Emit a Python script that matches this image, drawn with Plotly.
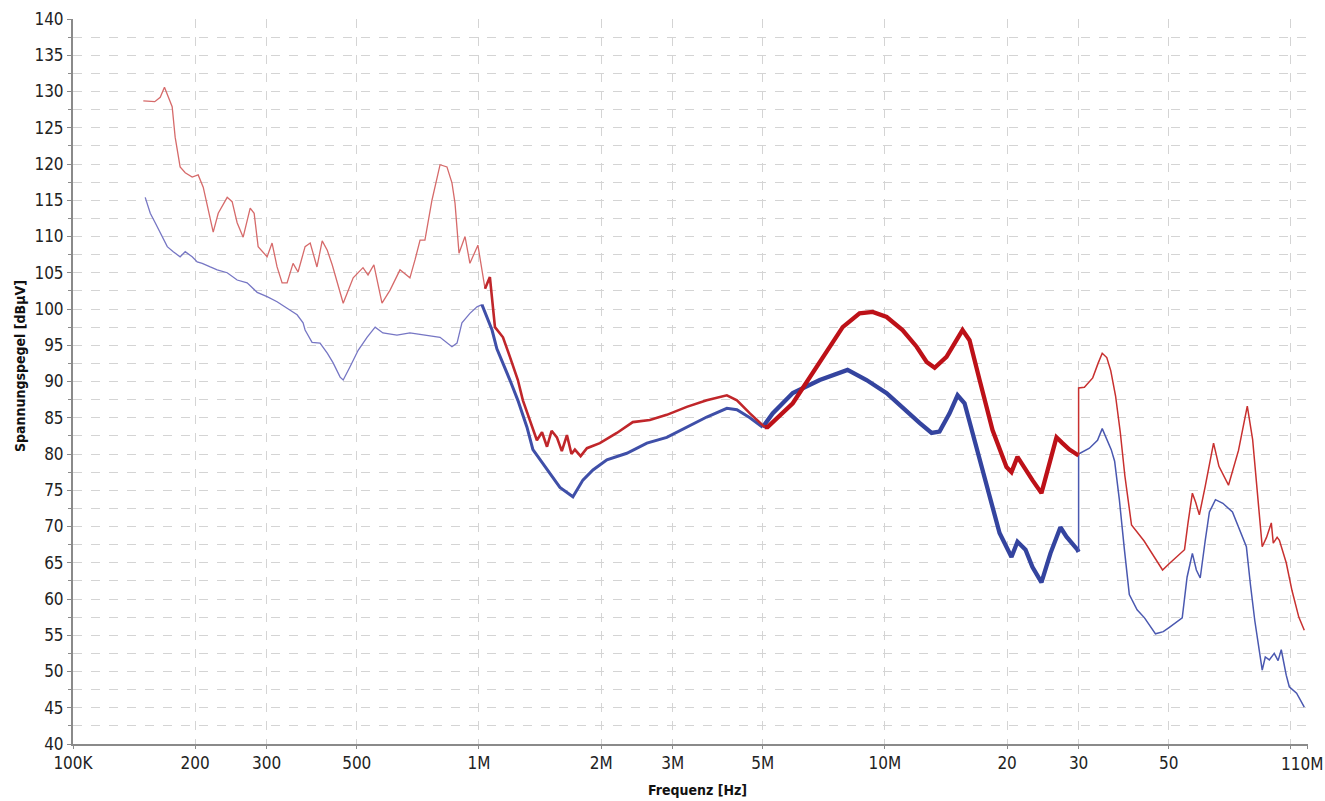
import math
import plotly.graph_objects as go

# ---------------- data (frequency in MHz, level in dBµV) ----------------
red_mhz = [
    0.149, 0.159, 0.164, 0.168, 0.1755, 0.1785, 0.1836, 0.189, 0.1966, 0.2034,
    0.2093, 0.2178, 0.2215, 0.2279, 0.2398, 0.2466, 0.2537, 0.2625, 0.2732, 0.2794,
    0.2858, 0.3007, 0.3093, 0.3182, 0.3274, 0.3368, 0.3484, 0.3584, 0.373, 0.384,
    0.399, 0.411, 0.423, 0.435, 0.447, 0.463, 0.490, 0.518, 0.533, 0.551,
    0.577, 0.604, 0.639, 0.676, 0.696, 0.716, 0.736, 0.766, 0.802, 0.834,
    0.858, 0.873, 0.893, 0.924, 0.950, 0.994, 1.035, 1.064, 1.095, 1.146,
    1.192, 1.247, 1.283, 1.335, 1.389, 1.43, 1.471, 1.51, 1.556, 1.60,
    1.647, 1.69, 1.723, 1.78, 1.845,
    1.985, 2.186, 2.393, 2.636, 2.902, 3.25, 3.64, 4.08, 4.32, 4.65,
    5.06, 5.14, 5.93, 6.91, 7.87, 8.66, 9.33, 10.1, 11.05, 11.97,
    12.67, 13.26, 14.18, 15.53, 16.16, 17.11, 18.41, 19.93, 20.5, 21.21,
    21.82, 23.09, 24.3, 25.43, 26.46, 27.37, 28.48, 29.8, 30.0, 30.0,
    31.0, 32.5, 33.5, 34.3, 35.2, 36.0, 37.0, 38.0, 39.0, 40.5,
    43.5, 46.1, 48.3, 50.2, 53.1, 54.7, 55.8, 57.2, 58.3, 59.5,
    61.5, 64.5, 66.5, 70.2, 74.3, 78.1, 80.5, 83.0, 85.0, 87.1,
    89.5, 90.5, 92.5, 93.7, 97.4, 100.6, 104.6, 107.9,
]
red_dbuv = [
    128.7, 128.6, 129.2, 130.6, 127.9, 123.7, 119.6, 118.8, 118.2, 118.5,
    116.8, 112.3, 110.6, 113.2, 115.4, 114.8, 111.9, 109.9, 113.9, 113.2,
    108.6, 107.2, 109.1, 105.8, 103.6, 103.6, 106.3, 105.1, 108.6, 109.1,
    105.8, 109.4, 108.1, 106.1, 103.7, 100.8, 104.3, 105.7, 104.7, 106.1,
    100.8, 102.6, 105.4, 104.3, 106.8, 109.5, 109.5, 115.0, 119.9, 119.6,
    117.4, 114.6, 107.7, 110.0, 106.3, 108.8, 102.8, 104.4, 97.5, 96.1,
    93.4, 90.2, 87.4, 84.7, 81.9, 83.0, 81.0, 83.2, 82.3, 80.4,
    82.6, 80.0, 80.6, 79.7, 80.8,
    81.5, 82.9, 84.4, 84.7, 85.4, 86.5, 87.4, 88.1, 87.4, 85.6,
    83.7, 83.7, 87.0, 92.6, 97.5, 99.4, 99.6, 98.9, 97.1, 94.8,
    92.7, 91.9, 93.4, 97.1, 95.7, 90.2, 83.3, 78.2, 77.5, 79.6,
    78.5, 76.4, 74.6, 78.9, 82.3, 81.5, 80.6, 79.9, 79.8, 89.1,
    89.2, 90.5, 92.5, 93.9, 93.3, 91.5, 88.0, 83.0, 77.0, 70.2,
    68.0, 65.8, 64.0, 64.9, 66.1, 66.8, 70.5, 74.6, 73.3, 71.6,
    75.5, 81.5, 78.3, 75.7, 80.5, 86.6, 82.0, 74.0, 67.2, 68.5,
    70.5, 67.7, 68.5, 68.1, 65.0, 61.2, 57.5, 55.7,
]

blue_mhz = [
    0.1506, 0.155, 0.1594, 0.1659, 0.1707, 0.1766, 0.1836, 0.189, 0.1966, 0.2023,
    0.2081, 0.2178, 0.2266, 0.2398, 0.2537, 0.2685, 0.2842, 0.3007, 0.3182, 0.3368,
    0.3565, 0.3688, 0.373, 0.388, 0.406, 0.423, 0.437, 0.455, 0.463, 0.481,
    0.504, 0.530, 0.555, 0.580, 0.628, 0.676, 0.745, 0.802, 0.858, 0.883,
    0.908, 0.950, 0.989, 1.017, 1.046, 1.077, 1.107, 1.146, 1.192, 1.247,
    1.313, 1.358, 1.471, 1.583, 1.704, 1.803, 1.909, 2.066, 2.313, 2.592,
    2.902, 3.25, 3.64, 4.08, 4.32, 4.65, 5.0, 5.29, 5.93, 6.91,
    8.09, 9.01, 10.1, 11.31, 12.17, 13.03, 13.63, 14.43, 15.1, 15.71,
    16.44, 17.8, 19.16, 20.5, 21.21, 22.2, 23.09, 24.3, 25.57, 27.06,
    28.0, 29.8, 30.0, 30.0, 31.9, 33.4, 34.3, 35.0, 36.1, 36.8,
    37.8, 38.9, 40.0, 41.8, 43.6, 46.4, 48.5, 50.2, 53.1, 54.0,
    55.5, 57.2, 58.5, 59.8, 61.5, 63.0, 65.2, 68.0, 71.8, 74.3,
    77.7, 79.5, 81.5, 85.0, 86.5, 88.5, 91.0, 93.0, 94.7, 97.4,
    99.1, 103.3, 107.9,
]
blue_dbuv = [
    115.4, 113.2, 111.9, 109.9, 108.6, 107.9, 107.2, 107.9, 107.2, 106.5,
    106.3, 105.8, 105.4, 105.0, 104.0, 103.6, 102.3, 101.7, 101.0, 100.1,
    99.2, 98.1, 97.1, 95.4, 95.3, 93.9, 92.6, 90.6, 90.2, 92.0,
    94.3, 96.1, 97.5, 96.7, 96.4, 96.7, 96.4, 96.1, 94.8, 95.3,
    98.1, 99.4, 100.3, 100.6, 98.9, 97.1, 94.5, 92.6, 90.2, 87.4,
    83.7, 80.6, 77.8, 75.4, 74.1, 76.4, 77.8, 79.2, 80.1, 81.5,
    82.3, 83.7, 85.1, 86.3, 86.1, 85.0, 83.7, 85.6, 88.4, 90.2,
    91.6, 90.2, 88.4, 85.8, 84.3, 82.9, 83.1, 85.6, 88.1, 87.0,
    82.9, 75.4, 69.1, 65.8, 67.9, 66.8, 64.4, 62.3, 66.3, 69.9,
    68.6, 66.8, 66.5, 80.0, 80.8, 81.9, 83.5, 82.3, 80.6, 79.0,
    73.7, 66.8, 60.6, 58.5, 57.4, 55.2, 55.5, 56.1, 57.1, 57.4,
    63.0, 66.3, 64.0, 62.9, 68.0, 72.0, 73.7, 73.2, 72.0, 70.0,
    67.2, 62.0, 57.0, 50.2, 52.0, 51.6, 52.5, 51.5, 53.0, 49.5,
    47.9, 47.0, 45.1,
]

x_tick_hz = [1e5, 2e5, 3e5, 5e5, 1e6, 2e6, 3e6, 5e6, 1e7, 2e7, 3e7, 5e7, 1e8, 1.1e8]
x_tick_text = ["100K", "200", "300", "500", "1M", "2M", "3M", "5M", "10M",
               "20", "30", "50", "", "110M"]
y_min, y_max = 40, 140
x_title = "Frequenz [Hz]"
y_title = "Spannungspegel [dBµV]"

FONT = "DejaVu Sans Condensed, Liberation Sans Narrow, Arial Narrow, sans-serif"

W, H = 1325, 801
ML, MR, MT, MB = 73, 17, 19, 57


def first_index(f, limit):
    for i, v in enumerate(f):
        if v >= limit:
            return i
    return len(f) - 1


def segments(f):
    i1 = first_index(f, 1.0)
    i5 = first_index(f, 5.0)
    j30 = first_index(f, 30.0)
    return [(0, i1 + 1), (i1, i5 + 1), (i5, j30 + 1), (j30, len(f))]


fig = go.Figure()

styles = {
    "blue": (blue_mhz, blue_dbuv,
             [("#7676c4", 1.3), ("#3f4fa8", 3.0), ("#34449f", 4.3), ("#4a58b0", 1.5)]),
    "red": (red_mhz, red_dbuv,
            [("#d66a6a", 1.3), ("#c0262a", 2.6), ("#bd1118", 4.3), ("#c8302f", 1.5)]),
}

for name in ["blue", "red"]:
    f, v, st = styles[name]
    for (a, b), (col, w) in zip(segments(f), st):
        fig.add_trace(go.Scatter(
            x=[x * 1e6 for x in f[a:b]], y=v[a:b], mode="lines",
            line=dict(color=col, width=w), showlegend=False, hoverinfo="skip",
        ))

grid_col = "#d4d4d4"
axis_col = "#8a8a8a"
pw = W - ML - MR
ph = H - MT - MB
tick_font = dict(family=FONT, size=17, color="#222222")

# last tick label (at the right edge) placed as an annotation so it is not hidden
axis_tick_text = x_tick_text[:-1] + [""]

fig.update_layout(
    width=W, height=H,
    margin=dict(l=ML, r=MR, t=MT, b=MB),
    paper_bgcolor="white", plot_bgcolor="white",
    font=dict(family=FONT, color="#222222", size=17),
    showlegend=False,
    annotations=[
        dict(text="<b>%s</b>" % x_title, xref="paper", yref="paper",
             x=(697 - ML) / pw, y=-(790 - (H - MB)) / ph, showarrow=False,
             xanchor="center", yanchor="middle",
             font=dict(family=FONT, size=14, color="#111111")),
        dict(text="<b>%s</b>" % y_title, xref="paper", yref="paper",
             x=-(ML - 20) / pw, y=1 - (366 - MT) / ph, showarrow=False, textangle=-90,
             xanchor="center", yanchor="middle",
             font=dict(family=FONT, size=14, color="#111111")),
        dict(text=x_tick_text[-1], xref="paper", yref="paper",
             x=(W - ML) / pw, y=-(764 - (H - MB)) / ph, showarrow=False,
             xanchor="right", yanchor="middle", font=tick_font),
    ],
)
fig.update_xaxes(
    type="log", range=[5, math.log10(1.1e8) + 0.0008], automargin=False,
    tickmode="array", tickvals=x_tick_hz, ticktext=axis_tick_text,
    showgrid=True, gridcolor=grid_col, griddash="dash", gridwidth=1,
    showline=True, linecolor=axis_col, linewidth=2,
    ticks="outside", ticklen=3, tickcolor=axis_col,
    tickfont=tick_font,
    zeroline=False,
)
fig.update_yaxes(
    range=[y_min, y_max], tickmode="linear", tick0=y_min, dtick=5, automargin=False,
    showgrid=True, gridcolor=grid_col, griddash="dash", gridwidth=1,
    minor=dict(dtick=2.5, showgrid=True, gridcolor=grid_col, griddash="dash",
               ticks="outside", ticklen=3, tickcolor=axis_col),
    showline=True, linecolor=axis_col, linewidth=2,
    ticks="outside", ticklen=4, tickcolor=axis_col,
    tickfont=tick_font,
    zeroline=False,
)

fig.write_html("out.html", config={"displayModeBar": False},
               post_script="document.body.style.margin='0px';")
